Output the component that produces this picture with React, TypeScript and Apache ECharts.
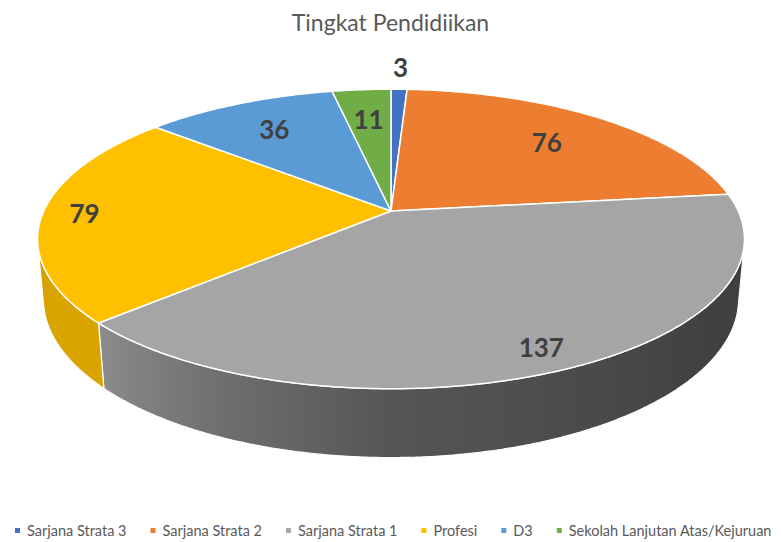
import React, { useEffect, useRef } from "react";
import * as echarts from "echarts";

const categories = [
  "Sarjana Strata 3",
  "Sarjana Strata 2",
  "Sarjana Strata 1",
  "Profesi",
  "D3",
  "Sekolah Lanjutan Atas/Kejuruan",
];
const values = [3, 76, 137, 79, 36, 11];
const topColors = ["#4472C4", "#ED7D31", "#A5A5A5", "#FFC000", "#5B9BD5", "#70AD47"];
const labelRadius = [1.22, 0.72, 0.88, 0.88, 0.74, 0.73];

// side shading by angle (degrees clockwise from back)
const shadeTable: [number, number][] = [
  [90, 0.38], [125, 0.39], [140, 0.42], [180, 0.52], [205, 0.68], [227, 0.85], [240, 0.86], [270, 0.8],
];

// perspective camera
const CX = 391;
const CY = 211;
const F = 1691;
const DIST = 4.87;
const PHI = (24.6 * Math.PI) / 180;
const THICK = 0.19;
const SP = Math.sin(PHI);
const CP = Math.cos(PHI);

function project(X: number, Y: number, Z: number): number[] {
  const depth = DIST - Y * SP - Z * CP;
  const up = Y * CP - Z * SP;
  return [CX + (F * X) / depth, CY - (F * up) / depth];
}
function rim(thetaDeg: number, r: number, Y: number): number[] {
  const t = (thetaDeg * Math.PI) / 180;
  return project(r * Math.sin(t), Y, -r * Math.cos(t));
}
function shade(theta: number): number {
  if (theta <= shadeTable[0][0]) return shadeTable[0][1];
  for (let i = 1; i < shadeTable.length; i++) {
    if (theta <= shadeTable[i][0]) {
      const [a, fa] = shadeTable[i - 1];
      const [b, fb] = shadeTable[i];
      return fa + ((fb - fa) * (theta - a)) / (b - a);
    }
  }
  return shadeTable[shadeTable.length - 1][1];
}
function scaleColor(hex: string, f: number): string {
  const n = parseInt(hex.slice(1), 16);
  const r = Math.round(((n >> 16) & 255) * f);
  const g = Math.round(((n >> 8) & 255) * f);
  const b = Math.round((n & 255) * f);
  return `rgb(${r},${g},${b})`;
}
function samples(a: number, b: number): number[] {
  const n = Math.max(2, Math.ceil((b - a) / 0.5) + 1);
  const out: number[] = [];
  for (let i = 0; i < n; i++) out.push(a + ((b - a) * i) / (n - 1));
  return out;
}

const total = values.reduce((s, v) => s + v, 0);
const cum: number[] = [0];
values.forEach((v) => cum.push(cum[cum.length - 1] + v));
const visLimit = (Math.acos(-1 / (DIST * CP)) * 180) / Math.PI;
const visStart = visLimit;
const visEnd = 360 - visLimit;

function makeRenderItem(i: number) {
  return () => {
    const a0 = (cum[i] / total) * 360;
    const a1 = (cum[i + 1] / total) * 360;
    const children: any[] = [];
    const topPts = [project(0, 0, 0)].concat(samples(a0, a1).map((t) => rim(t, 1, 0)));
    children.push({
      type: "polygon",
      z2: 10,
      shape: { points: topPts },
      style: { fill: topColors[i], stroke: "#ffffff", lineWidth: 1.5, lineJoin: "round" },
    });
    const s = Math.max(a0, visStart);
    const e = Math.min(a1, visEnd);
    if (e > s) {
      const ts = samples(s, e);
      const upper = ts.map((t) => rim(t, 1, 0));
      const lower = ts.map((t) => rim(t, 1, -THICK)).reverse();
      const xs = upper.map((p) => p[0]).concat(lower.map((p) => p[0]));
      const xmin = Math.min(...xs);
      const xmax = Math.max(...xs);
      const stops = ts
        .map((t) => ({ x: rim(t, 1, 0)[0], c: scaleColor(topColors[i], shade(t)) }))
        .sort((p, q) => p.x - q.x)
        .map((p) => ({ offset: Math.min(1, Math.max(0, (p.x - xmin) / (xmax - xmin || 1))), color: p.c }));
      children.push({
        type: "polygon",
        z2: 5,
        shape: { points: upper.concat(lower) },
        style: {
          fill: new echarts.graphic.LinearGradient(xmin, 0, xmax, 0, stops, true),
          stroke: "#ffffff",
          lineWidth: 1.2,
        },
      });
    }
    const mid = (a0 + a1) / 2;
    const lp = rim(mid, labelRadius[i], 0);
    children.push({
      type: "text",
      z2: 100,
      x: lp[0],
      y: lp[1],
      style: {
        text: String(values[i]),
        fill: "#404040",
        fontFamily: "Lato",
        fontWeight: "bold",
        fontSize: 26,
        align: "center",
        verticalAlign: "middle",
        textAlign: "center",
        textVerticalAlign: "middle",
      },
    });
    return { type: "group", children };
  };
}

export default function App() {
  const ref = useRef<HTMLDivElement>(null);
  useEffect(() => {
    if (!ref.current) return;
    const chart = echarts.init(ref.current, undefined, { renderer: "svg" });
    chart.setOption({
      animation: false,
      backgroundColor: "#ffffff",
      title: {
        text: "Tingkat Pendidiikan",
        left: "center",
        top: 5,
        textStyle: { fontFamily: "Lato", fontSize: 23, fontWeight: "normal", color: "#595959" },
      },
      legend: {
        data: categories.map((c) => ({ name: c, icon: "rect" })),
        left: 10,
        top: 518,
        width: 781,
        itemWidth: 5,
        itemHeight: 5,
        itemGap: 24,
        textStyle: { fontFamily: "Lato", fontSize: 14.5, color: "#595959", padding: [0, 0, 0, 2] },
        selectedMode: false,
      },
      series: categories.map((c, i) => ({
        type: "custom",
        name: c,
        coordinateSystem: "none",
        itemStyle: { color: topColors[i] },
        data: [[values[i]]],
        renderItem: makeRenderItem(i),
      })),
    });
    return () => chart.dispose();
  }, []);
  return (
    <div
      ref={ref}
      style={{ position: "absolute", left: 0, top: 0, width: 781, height: 542, background: "#fff" }}
    />
  );
}
